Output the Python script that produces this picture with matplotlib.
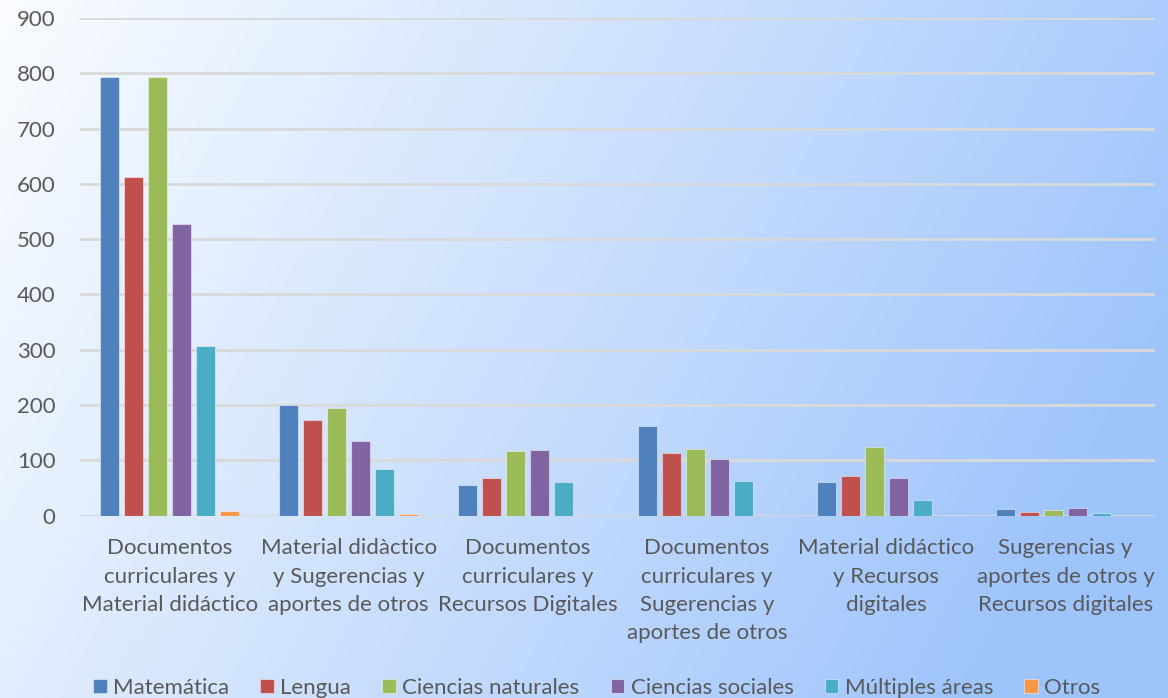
import matplotlib
matplotlib.use("Agg")
import matplotlib.pyplot as plt
import numpy as np
from matplotlib.colors import to_rgb

# ---- data ----
CATEGORIES = [
    "Documentos\ncurriculares y\nMaterial didáctico",
    "Material didàctico\ny Sugerencias y\naportes de otros",
    "Documentos\ncurriculares y\nRecursos Digitales",
    "Documentos\ncurriculares y\nSugerencias y\naportes de otros",
    "Material didáctico\ny Recursos\ndigitales",
    "Sugerencias y\naportes de otros y\nRecursos digitales",
]
SERIES = ["Matemática", "Lengua", "Ciencias naturales", "Ciencias sociales",
          "Múltiples áreas", "Otros"]
matematica = [793, 200, 56, 162, 60, 12]
lengua = [612, 172, 67, 113, 72, 6]
ciencias_naturales = [794, 195, 116, 120, 124, 10]
ciencias_sociales = [528, 135, 119, 103, 67, 13]
multiples_areas = [307, 85, 60, 63, 28, 4]
otros = [9, 3, 0, 0, 0, 0]
VALUES = [matematica, lengua, ciencias_naturales, ciencias_sociales,
          multiples_areas, otros]
YTICKS = list(range(0, 901, 100))

COLORS = ["#4F81BD", "#C0504D", "#9BBB59", "#8064A2", "#4BACC6", "#F79646"]
INK = "#595959"
GRID = "#D9D9D9"

plt.rcParams.update({
    "font.family": ["Lato", "DejaVu Sans"],
    "text.color": INK, "xtick.color": INK, "ytick.color": INK,
})

W, H = 1168, 698
fig = plt.figure(figsize=(W / 100, H / 100), dpi=100)

# background gradient: near-white top-left to light blue at the right
bg = fig.add_axes([0, 0, 1, 1], zorder=-10)
xx, yy = np.meshgrid(np.linspace(0, 1, 400), np.linspace(0, 1, 240))
t = np.clip(0.86 * xx + 0.28 * yy, 0, 1) ** 1.05
c0, c1 = np.array(to_rgb("#FAFCFF")), np.array(to_rgb("#9EC4FC"))
img = c0[None, None, :] * (1 - t[..., None]) + c1[None, None, :] * t[..., None]
bg.imshow(img, aspect="auto", extent=[0, 1, 0, 1], origin="upper")
bg.axis("off")

ax = fig.add_axes([80 / W, 1 - 515.5 / H, 1075 / W, (515.5 - 18) / H])
ax.set_facecolor("none")

x = np.arange(len(CATEGORIES))
step, width = 0.134, 0.106
for i, (name, vals, col) in enumerate(zip(SERIES, VALUES, COLORS)):
    ax.bar(x + (i - 2.5) * step, vals, width=width, color=col,
           edgecolor=(1, 1, 1, 0.45), linewidth=0.8, label=name, zorder=3)

ax.set_xlim(-0.5, len(CATEGORIES) - 0.5)
ax.set_ylim(0, 900)
ax.set_yticks(YTICKS)
ax.yaxis.grid(True, color=GRID, linewidth=2, zorder=0)
ax.set_axisbelow(True)
for s in ax.spines.values():
    s.set_visible(False)
ax.tick_params(axis="y", length=0, pad=17.5, labelsize=16)
ax.set_xticks(x)
ax.set_xticklabels(CATEGORIES, fontsize=16, linespacing=1.52)
ax.tick_params(axis="x", length=0, pad=16.5)

leg = fig.legend(loc="center", bbox_to_anchor=(0.511, 1 - 688 / H), ncol=6,
                 frameon=False, fontsize=16, handlelength=0.6, handleheight=0.6,
                 handletextpad=0.3, columnspacing=1.4)

fig.savefig("out.png", dpi=100)
